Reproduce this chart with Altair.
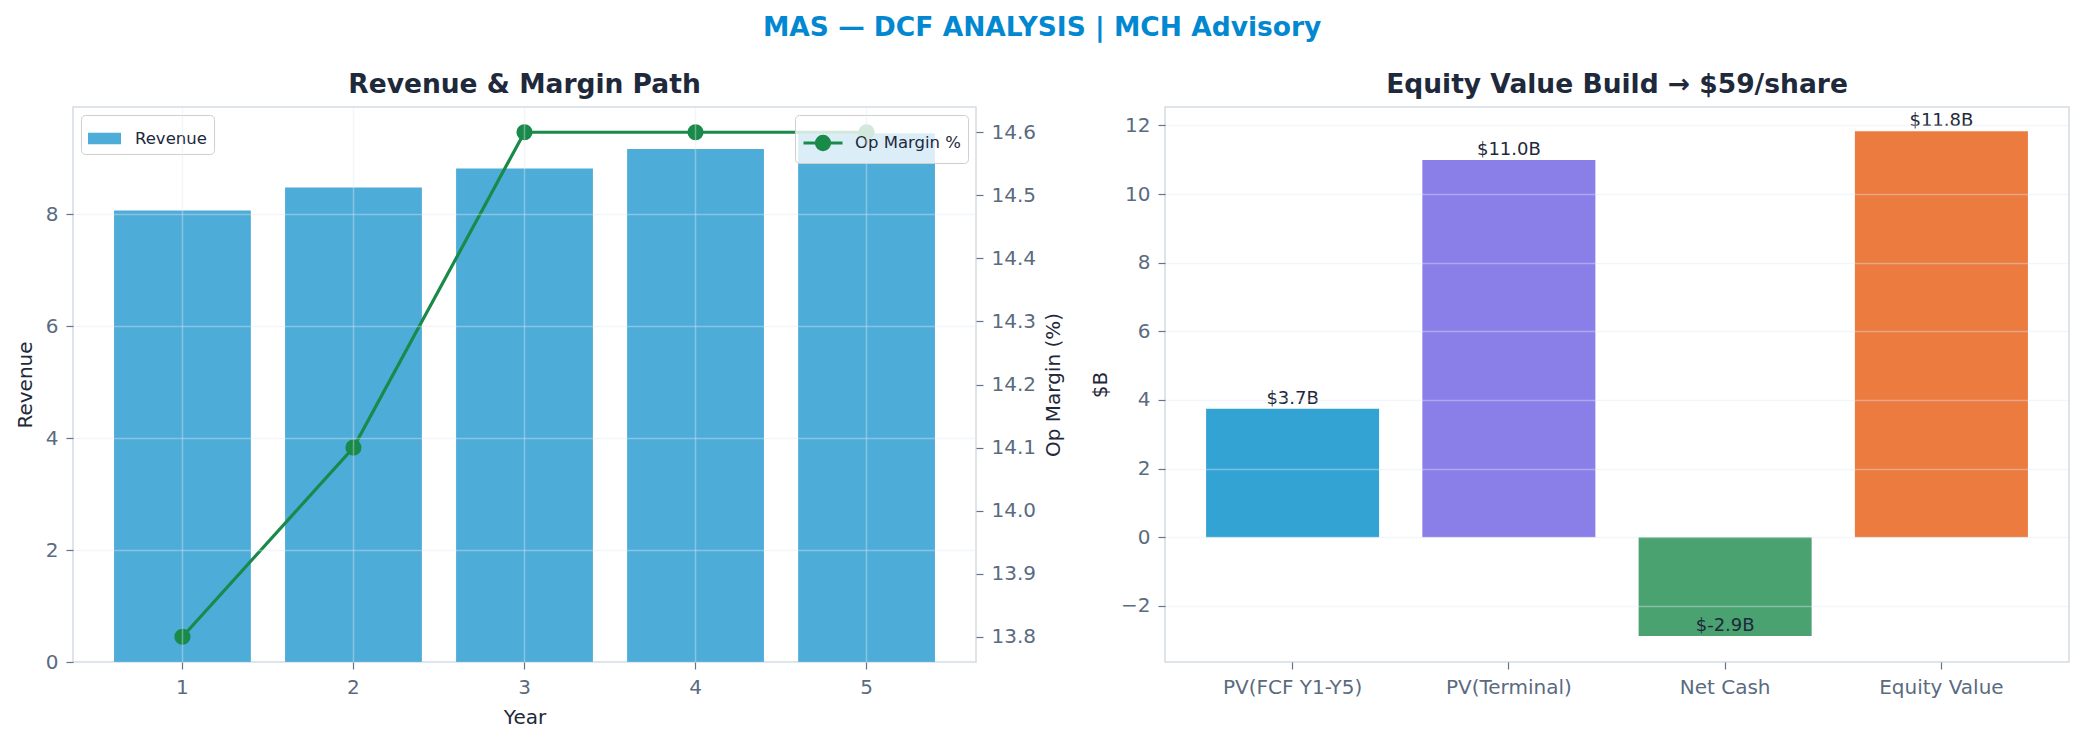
import altair as alt
import pandas as pd

# ---------------- data ----------------
years = [1, 2, 3, 4, 5]
revenue = [8.07, 8.48, 8.82, 9.17, 9.45]
op_margin = [13.8, 14.1, 14.6, 14.6, 14.6]
margin_ticks = [13.8, 13.9, 14.0, 14.1, 14.2, 14.3, 14.4, 14.5, 14.6]
revenue_ticks = [0, 2, 4, 6, 8]

components = ["PV(FCF Y1-Y5)", "PV(Terminal)", "Net Cash", "Equity Value"]
values = [3.74, 10.99, -2.88, 11.83]
value_labels = ["$3.7B", "$11.0B", "$-2.9B", "$11.8B"]
comp_colors = ["#33A3D4", "#8A7FE9", "#4AA271", "#EC7B40"]
value_ticks = [-2, 0, 2, 4, 6, 8, 10, 12]

FONT = "DejaVu Sans"
DARK = "#1e293b"
TICKLAB = "#5a6b80"
FRAME = "#d3dbe4"

df_left = pd.DataFrame({
    "Year": years,
    "Revenue": revenue,
    "OpMargin": op_margin,
    "bar_series": ["Revenue"] * len(years),
    "line_series": ["Op Margin %"] * len(years),
})
df_right = pd.DataFrame({
    "Component": components,
    "Value": values,
    "Label": value_labels,
})

legend_common = dict(
    title=None,
    labelFontSize=16.5,
    labelColor=DARK,
    labelFont=FONT,
    padding=7,
    strokeColor="#cfcfcf",
    fillColor="rgba(255,255,255,0.8)",
    cornerRadius=4,
    offset=8,
)

x_year = alt.X(
    "Year:O",
    scale=alt.Scale(paddingInner=0.2, paddingOuter=0.24),
    axis=alt.Axis(labelAngle=0, grid=True, bandPosition=0.5, title="Year",
                  zindex=1, titlePadding=10),
)

bars = alt.Chart(df_left).mark_bar().encode(
    x=x_year,
    y=alt.Y(
        "Revenue:Q",
        scale=alt.Scale(domain=[0, 9.92], nice=False, zero=True),
        axis=alt.Axis(values=revenue_ticks, title="Revenue", grid=True, zindex=1, titlePadding=10),
    ),
    fill=alt.Fill(
        "bar_series:N",
        scale=alt.Scale(domain=["Revenue"], range=["#4DACD8"]),
        legend=alt.Legend(
            orient="top-left",
            symbolType="M-1,-0.35H1V0.35H-1Z",
            symbolSize=1089,
            symbolStrokeWidth=0,
            labelOffset=14,
            **legend_common,
        ),
    ),
)

line = alt.Chart(df_left).mark_line(
    strokeWidth=3.2,
    point=alt.OverlayMarkDef(filled=True, size=200, color="#1a8a4a"),
).encode(
    x=alt.X("Year:O"),
    y=alt.Y(
        "OpMargin:Q",
        scale=alt.Scale(domain=[13.76, 14.64], nice=False, zero=False),
        axis=alt.Axis(orient="right", values=margin_ticks, format=".1f",
                      title="Op Margin (%)", grid=False, titlePadding=8,
                      titleAngle=270, titleBaseline="top"),
    ),
    stroke=alt.Stroke(
        "line_series:N",
        scale=alt.Scale(domain=["Op Margin %"], range=["#1a8a4a"]),
        legend=alt.Legend(
            orient="top-right",
            symbolType="M-1,0H1M0.34,0A0.34,0.34,0,1,1,-0.34,0A0.34,0.34,0,1,1,0.34,0Z",
            symbolSize=1521,
            symbolStrokeWidth=3,
            symbolFillColor="#1a8a4a",
            labelOffset=11,
            **legend_common,
        ),
    ),
)

left = alt.layer(bars, line).resolve_scale(y="independent").properties(
    width=903,
    height=555,
    title=alt.TitleParams("Revenue & Margin Path", anchor="middle", offset=9),
)

x_comp = alt.X(
    "Component:N",
    sort=components,
    scale=alt.Scale(paddingInner=0.2, paddingOuter=0.19),
    axis=alt.Axis(labelAngle=0, title=None, grid=False),
)
y_val = alt.Y(
    "Value:Q",
    scale=alt.Scale(domain=[-3.635, 12.535], nice=False),
    axis=alt.Axis(values=value_ticks, title="$B", grid=True, zindex=1, titlePadding=10),
)

bars2 = alt.Chart(df_right).mark_bar().encode(
    x=x_comp,
    y=y_val,
    color=alt.Color("Component:N", sort=components,
                    scale=alt.Scale(domain=components, range=comp_colors), legend=None),
)
texts = alt.Chart(df_right).mark_text(
    baseline="bottom", fontSize=18, color=DARK, font=FONT, dy=-1
).encode(
    x=alt.X("Component:N", sort=components),
    y=alt.Y("Value:Q"),
    text="Label:N",
)

right = alt.layer(bars2, texts).properties(
    width=904,
    height=555,
    title=alt.TitleParams("Equity Value Build \u2192 $59/share", anchor="middle", offset=9),
)

chart = alt.hconcat(left, right, spacing=24).resolve_scale(fill="independent", stroke="independent").properties(
    title=alt.TitleParams(
        "MAS \u2014 DCF ANALYSIS | MCH Advisory",
        anchor="middle",
        fontSize=26.5,
        color="#0288D1",
        offset=29,
    )
).configure(
    font=FONT,
    padding={"left": 6, "top": 7, "right": 0, "bottom": 0},
).configure_view(
    stroke=FRAME, strokeWidth=1.5
).configure_axis(
    domain=False,
    tickColor="#64748b",
    tickSize=7,
    tickWidth=1.2,
    labelColor=TICKLAB,
    labelFontSize=20,
    labelFont=FONT,
    labelPadding=8,
    titleFont=FONT,
    titleFontSize=20,
    titleFontWeight="normal",
    titleColor=DARK,
    gridColor="#e2e8f0",
    gridOpacity=0.4,
    gridWidth=1.5,
).configure_title(
    font=FONT, fontSize=26.5, fontWeight="bold", color=DARK
)

chart.save("out.html", embed_options={"renderer": "svg", "actions": False})
